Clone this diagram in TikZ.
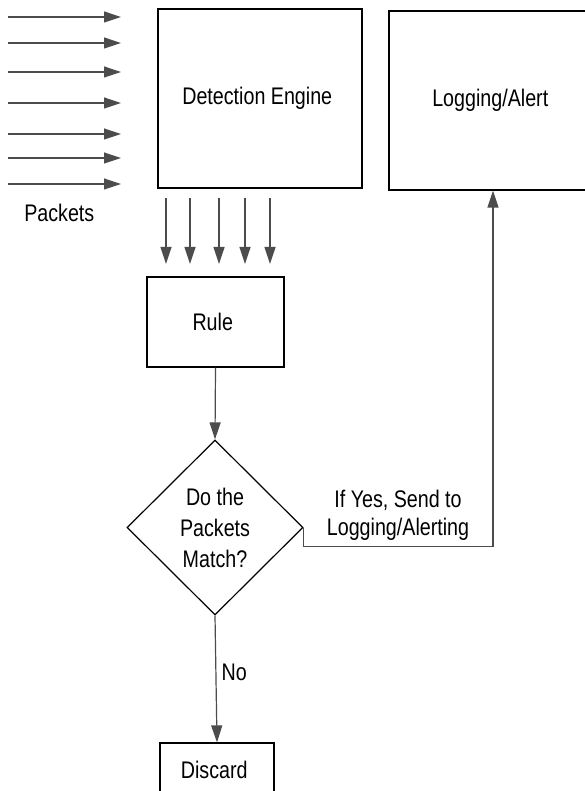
\documentclass[tikz,border=0pt]{standalone}
\usepackage{fontspec}
\setmainfont{Liberation Sans}[FakeStretch=0.82]
\usetikzlibrary{arrows.meta,positioning,shapes.geometric}

\begin{document}
\begin{tikzpicture}[x=1pt, y=-1pt,
    every node/.style={font=\fontsize{24}{31}\selectfont, align=center},
    block/.style={rectangle, draw, line width=1.2pt, inner sep=0pt},
    choice/.style={diamond, draw, line width=1.2pt, inner sep=0pt, aspect=1},
    feed/.style={-{Triangle[length=17pt, width=11pt]}, draw=black!70, line width=1.2pt}
]
    \useasboundingbox (0,0) rectangle (584,791);

    \node (detection_engine) [block, minimum width=204pt, minimum height=179pt, shift={(260,98.5)}]
    {
        Detection Engine
    };
    \node (logging_alert) [block, minimum width=208pt, minimum height=179pt, shift={(493,100.5)}]
    {
        Logging/Alert
    };
    \node (rule) [block, minimum width=137pt, minimum height=90pt, shift={(215.5,322)}]
    {
        Rule
    };
    \node (match) [choice, minimum width=176pt, minimum height=175pt, shift={(215,527.5)}]
    {
        Do the\\Packets\\Match?
    };
    \node (discard) [block, minimum width=114pt, minimum height=54pt, shift={(217,770)}]
    {
        Discard
    };
    \node (packets) [shift={(62,213)}]
    {
        Packets
    };
    \node (if_yes) [font=\fontsize{24}{28}\selectfont, shift={(398,515)}]
    {
        If Yes, Send to\\Logging/Alerting
    };
    \node (no) [shift={(237,672)}]
    {
        No
    };

    % incoming packets
    \foreach \y [count=\i] in {17,43,72,103,134,158,184} {
        \coordinate (packet_in_\i) at (8,\y);
        \coordinate (packet_out_\i) at (121,\y);
        \draw[feed] (packet_in_\i) -- (packet_out_\i);
    }
    % packets handed on to the rule
    \foreach \x [count=\i] in {166,190,219,245,270} {
        \coordinate (rule_in_\i) at (\x,198);
        \coordinate (rule_out_\i) at (\x,264);
        \draw[feed] (rule_in_\i) -- (rule_out_\i);
    }
    \draw[feed] (rule.south) to (match.north);
    \draw[feed] (match.east) -- ++(0,19) -| (logging_alert.south);
    \draw[feed] (match.south) to (discard.north);
\end{tikzpicture}
\end{document}
